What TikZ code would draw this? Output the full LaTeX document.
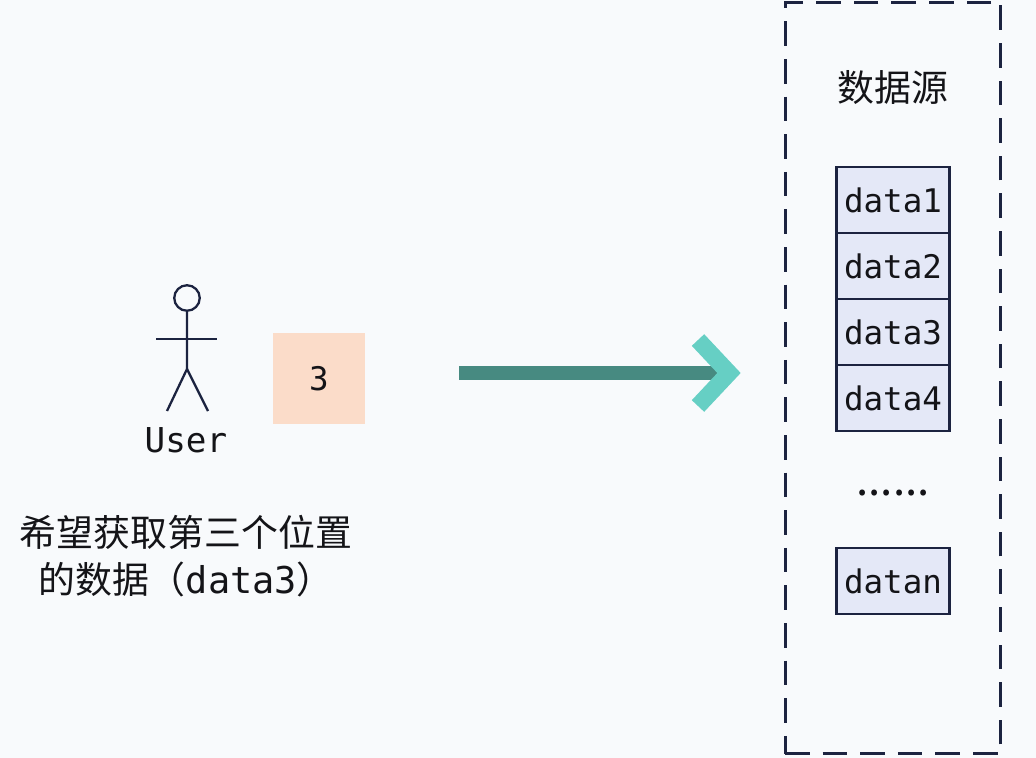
\documentclass[tikz,border=0pt]{standalone}
\usepackage{fontspec}
\usepackage{tikz}
\usepackage{xcolor}
\newfontfamily\cjk{Noto Sans CJK SC}
\newfontfamily\mono{DejaVu Sans Mono}
\definecolor{bgcol}{HTML}{F8FAFC}
\definecolor{navy}{HTML}{1C2340}
\definecolor{cellfill}{HTML}{E4E8F7}
\definecolor{peach}{HTML}{FBDCC9}
\definecolor{shaftteal}{HTML}{478A81}
\definecolor{headteal}{HTML}{66CFC4}
\definecolor{ink}{HTML}{141418}

\begin{document}
\begin{tikzpicture}[x=0.02cm,y=-0.02cm]
			\fill[bgcol] (0,0) rectangle (1036,758);
			\useasboundingbox (0,0) rectangle (1036,758);
			\tikzstyle{cell}=[draw=navy,fill=cellfill,line width=1.3pt,minimum width=2.26cm,minimum height=1.32cm,inner sep=0pt,text=ink,font=\mono\fontsize{18.5}{20}\selectfont]
			\tikzstyle{stick}=[draw=navy,line width=1.3pt]
			% data source
			\node[draw=navy,line width=1.7pt,dash pattern=on 14pt off 7.4pt,minimum width=4.32cm,minimum height=15.04cm,inner sep=0pt] (src) at (893,378) {};
			\node[text=ink,font=\cjk\fontsize{21}{24}\selectfont] (title) at (893,88) {数据源};
			\node[cell] (d1) at (893,200) {data1};
			\node[cell] (d2) at (893,266) {data2};
			\node[cell] (d3) at (893,332) {data3};
			\node[cell] (d4) at (893,398) {data4};
			\node[text=ink,font=\cjk\fontsize{25}{28}\selectfont] (dots) at (893,493) {......};
			\node[cell] (dn) at (893,581) {datan};
			% user
			\node[stick,circle,minimum size=0.51cm,inner sep=0pt] (head) at (187,298) {};
			\coordinate (hip) at (187,369);
			\coordinate (lhand) at (156,339);
			\coordinate (rhand) at (217,339);
			\coordinate (lfoot) at (167,411);
			\coordinate (rfoot) at (208,411);
			\draw[stick] (head) -- (hip) -- (lfoot);
			\draw[stick] (hip) -- (rfoot);
			\draw[stick] (lhand) -- (rhand);
			\node[text=ink,font=\mono\fontsize{19.5}{22}\selectfont] (user) at (186,440) {User};
			\node[fill=peach,minimum width=1.84cm,minimum height=1.82cm,text=ink,font=\mono\fontsize{18.5}{20}\selectfont] (key) at (319,378.5) {3};
			\node[text=ink,align=center,font=\cjk\fontsize{21}{27}\selectfont] (want) at (186,556) {希望获取第三个位置\\的数据（{\mono data3}）};
			% arrow
			\coordinate (from) at (459,373);
			\coordinate (tip) at (729,373);
			\draw[shaftteal,line width=0.28cm] (from) -- (tip);
			\draw[headteal,line width=0.34cm,miter limit=4] ([shift={(-31,-33)}]tip) -- (tip) -- ([shift={(-31,33)}]tip);
		\end{tikzpicture}
\end{document}
